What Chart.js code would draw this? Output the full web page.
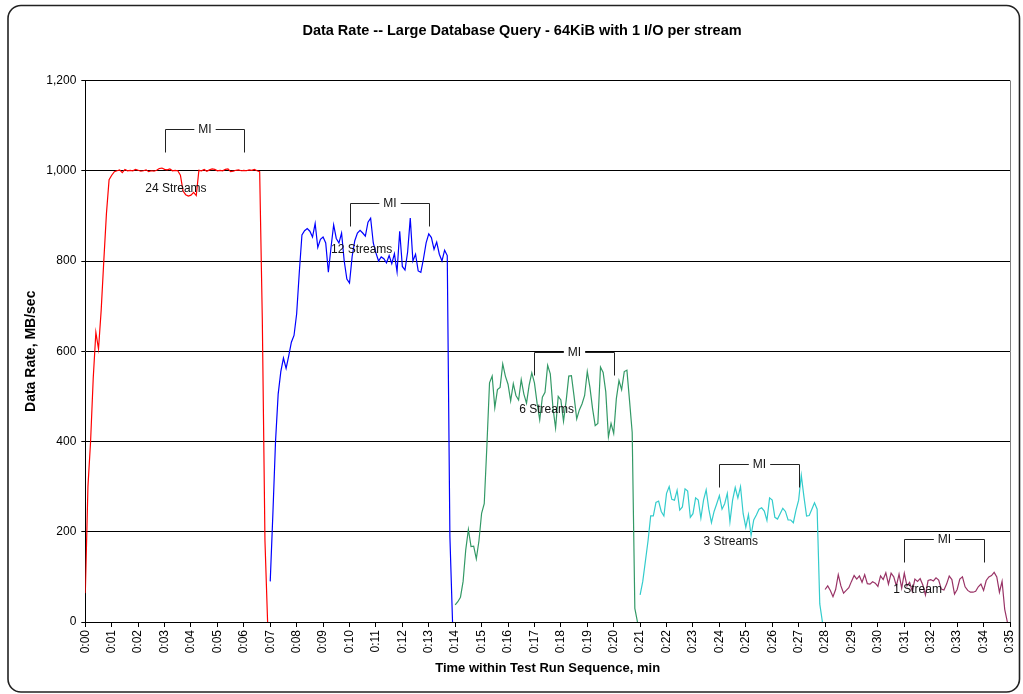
<!DOCTYPE html>
<html>
<head>
<meta charset="utf-8">
<title>Data Rate - Large Database Query</title>
<script src="https://cdn.jsdelivr.net/npm/chart.js@4/dist/chart.umd.min.js"></script>
<style>
  html, body { margin: 0; padding: 0; background: #fff; }
  #wrap { width: 1023px; height: 694px; position: relative; }
</style>
</head>
<body>
<div id="wrap"><canvas id="chart"></canvas></div>
<script>
// ── Data (minutes, MB/sec) ──────────────────────────────────────────────────
// one sample every 0.1 min, each run starts at its own offset
const SAMPLE_STEP = 0.1;

const start24 = 0.0;
const rate24 = [
  64, 300, 400, 540, 642, 605, 690, 800, 905, 980,
  990, 998, 1000, 1002, 996, 1003, 1000, 1001, 1000, 1003,
  1001, 999, 1000, 1002, 998, 1000, 999, 1001, 1005, 1006,
  1003, 1002, 1004, 1000, 1001, 1000, 990, 955, 947, 944,
  946, 952, 945, 1001, 1000, 1003, 999, 1002, 1004, 1003,
  1000, 1001, 1000, 1003, 1004, 998, 999, 1001, 1002, 1000,
  1001, 1000, 1002, 1001, 1003, 1000, 998, 670, 180, 0,
];

const start12 = 7.0;
const rate12 = [
  90, 240, 400, 505, 555, 585, 562, 590, 620, 635,
  683, 775, 858, 867, 872, 866, 853, 883, 830, 848,
  853, 840, 775, 830, 880, 850, 840, 862, 800, 760,
  751, 810, 845, 862, 868, 862, 855, 886, 895, 840,
  818, 800, 809, 805, 796, 812, 794, 816, 776, 866,
  788, 780, 820, 895, 800, 815, 778, 775, 805, 840,
  860, 852, 826, 842, 815, 800, 824, 812, 190, 0,
];

const start6 = 14.0;
const rate6 = [
  38, 45, 55, 90, 160, 205, 167, 168, 140, 180,
  241, 262, 390, 530, 545, 475, 515, 520, 572, 545,
  527, 490, 528, 502, 492, 537, 505, 485, 525, 552,
  530, 485, 448, 498, 509, 569, 550, 475, 430, 500,
  492, 445, 490, 545, 546, 500, 450, 470, 483, 502,
  555, 520, 473, 435, 440, 565, 553, 510, 410, 440,
  418, 495, 535, 515, 555, 558, 490, 420, 30, 0,
];

const start3 = 21.0;
const rate3 = [
  60, 90, 135, 180, 235, 235, 265, 268, 245, 235,
  285, 300, 272, 270, 292, 248, 255, 295, 290, 232,
  240, 275, 270, 230, 270, 293, 250, 220, 245, 262,
  280, 250, 262, 285, 222, 270, 298, 275, 300, 240,
  210, 238, 192, 226, 237, 250, 253, 246, 225, 275,
  270, 232, 228, 240, 252, 245, 226, 226, 220, 248,
  270, 325, 278, 235, 236, 250, 264, 250, 40, 0,
];

const start1 = 28.0;
const rate1 = [
  72, 80, 70, 56, 72, 105, 80, 64, 70, 76,
  90, 103, 95, 102, 88, 105, 85, 84, 89, 86,
  79, 102, 94, 109, 84, 108, 100, 80, 106, 75,
  108, 80, 88, 68, 95, 90, 96, 82, 60, 92,
  94, 91, 98, 93, 73, 71, 84, 102, 94, 62,
  72, 95, 100, 78, 70, 66, 66, 68, 78, 84,
  70, 92, 100, 103, 110, 100, 66, 90, 28, 0,
];

const seriesNames = ['24 Streams', '12 Streams', '6 Streams', '3 Streams', '1 Stream'];
const seriesColors = ['#FF0000', '#0000FF', '#339966', '#33CCCC', '#993366'];

// "MI" brackets (measurement interval) and run labels
const miStart = [3, 10, 17, 24, 31];
const miEnd = [6, 13, 20, 27, 34];
const miLevel = [1093, 929, 598, 350, 185];
const labelTime = [3.43, 10.46, 17.46, 24.43, 31.5];
const labelLevel = [961, 825, 471, 178, 71];

const xMin = 0, xMax = 35, xStep = 1;
const yMin = 0, yMax = 1200, yStep = 200;

const TITLE = 'Data Rate -- Large Database Query - 64KiB with 1 I/O per stream';
const FONT = '"Liberation Sans", Arial, sans-serif';

// ── Helpers ────────────────────────────────────────────────────────────────

function toPoints(start, values) {
  return values.map((v, i) => ({ x: +(start + i * SAMPLE_STEP).toFixed(2), y: v }));
}

function fmtMinute(v) {
  return '0:' + String(v).padStart(2, '0');
}

// ── Plugins ────────────────────────────────────────────────────────────────

const framePlugin = {
  id: 'frame',
  beforeDraw(chart) {
    const ctx = chart.ctx;
    ctx.save();
    ctx.fillStyle = '#fff';
    ctx.fillRect(0, 0, chart.width, chart.height);
    ctx.strokeStyle = '#222';
    ctx.lineWidth = 1.6;
    ctx.beginPath();
    ctx.roundRect(8, 5.5, 1011.5, 686.5, 13);
    ctx.stroke();
    // chart title, centred on the frame rather than the plot
    ctx.fillStyle = '#000';
    ctx.font = 'bold 14.5px ' + FONT;
    ctx.textAlign = 'center';
    ctx.textBaseline = 'middle';
    ctx.fillText(TITLE, 522, 31);
    ctx.restore();
  },
  beforeDatasetsDraw(chart) {
    const { ctx, chartArea: a } = chart;
    ctx.save();
    ctx.strokeStyle = '#808080';
    ctx.lineWidth = 1;
    ctx.beginPath();
    ctx.moveTo(Math.round(a.right) + 0.5, a.top);
    ctx.lineTo(Math.round(a.right) + 0.5, a.bottom);
    ctx.stroke();
    ctx.restore();
  },
};

const notesPlugin = {
  id: 'notes',
  afterDatasetsDraw(chart) {
    const { ctx, scales: { x, y } } = chart;
    ctx.save();
    ctx.font = '12px ' + FONT;
    ctx.textBaseline = 'middle';
    ctx.textAlign = 'center';

    miStart.forEach((s, i) => {
      const x0 = Math.round(x.getPixelForValue(s)) + 0.5;
      const x1 = Math.round(x.getPixelForValue(miEnd[i])) + 0.5;
      const yt = Math.round(y.getPixelForValue(miLevel[i])) + 0.5;
      const drop = 23;
      ctx.strokeStyle = '#222';
      ctx.lineWidth = 1;
      ctx.beginPath();
      ctx.moveTo(x0, yt + drop);
      ctx.lineTo(x0, yt);
      ctx.lineTo(x1, yt);
      ctx.lineTo(x1, yt + drop);
      ctx.stroke();
      const cx = (x0 + x1) / 2;
      const w = ctx.measureText('MI').width + 8;
      ctx.fillStyle = '#fff';
      ctx.fillRect(cx - w / 2, yt - 6, w, 12);
      ctx.fillStyle = '#111';
      ctx.fillText('MI', cx, yt);
    });

    ctx.fillStyle = '#111';
    seriesNames.forEach((name, i) => {
      ctx.fillText(name, x.getPixelForValue(labelTime[i]), y.getPixelForValue(labelLevel[i]));
    });
    ctx.restore();
  },
};

// ── Chart ──────────────────────────────────────────────────────────────────

const runs = [
  [start24, rate24],
  [start12, rate12],
  [start6, rate6],
  [start3, rate3],
  [start1, rate1],
];

new Chart(document.getElementById('chart'), {
  type: 'line',
  data: {
    datasets: runs.map(([start, values], i) => ({
      label: seriesNames[i],
      data: toPoints(start, values),
      borderColor: seriesColors[i],
      backgroundColor: seriesColors[i],
      borderWidth: 1.2,
      pointRadius: 0,
      tension: 0,
      fill: false,
    })),
  },
  options: {
    responsive: true,
    maintainAspectRatio: false,
    animation: false,
    layout: { padding: { left: 20, right: 13, top: 80.5, bottom: 0 } },
    plugins: {
      legend: { display: false },
      tooltip: { enabled: false },
      title: { display: false },
    },
    scales: {
      x: {
        type: 'linear',
        min: xMin,
        max: xMax,
        afterFit: (scale) => {
          scale.height = 72;
          scale.paddingLeft = 0;
          scale.paddingRight = 0;
        },
        ticks: {
          stepSize: xStep,
          autoSkip: false,
          maxRotation: 90,
          minRotation: 90,
          padding: 3,
          color: '#000',
          font: { family: FONT, size: 12 },
          callback: fmtMinute,
        },
        grid: { drawOnChartArea: false, drawTicks: true, tickLength: 5, color: '#000' },
        border: { color: '#000', width: 1 },
        title: {
          display: true,
          text: 'Time within Test Run Sequence, min',
          color: '#000',
          font: { family: FONT, size: 13, weight: 'bold' },
          padding: { top: 0, bottom: 18 },
        },
      },
      y: {
        min: yMin,
        max: yMax,
        afterFit: (scale) => { scale.width = 65.3; },
        ticks: {
          stepSize: yStep,
          padding: 5,
          color: '#000',
          font: { family: FONT, size: 12 },
          callback: (v) => v.toLocaleString('en-US'),
        },
        grid: { color: '#000', lineWidth: 1, tickLength: 4 },
        border: { color: '#000', width: 1 },
        title: {
          display: true,
          text: 'Data Rate, MB/sec',
          color: '#000',
          font: { family: FONT, size: 14, weight: 'bold' },
          padding: { top: 3, bottom: 0 },
        },
      },
    },
  },
  plugins: [framePlugin, notesPlugin],
});
</script>
</body>
</html>
